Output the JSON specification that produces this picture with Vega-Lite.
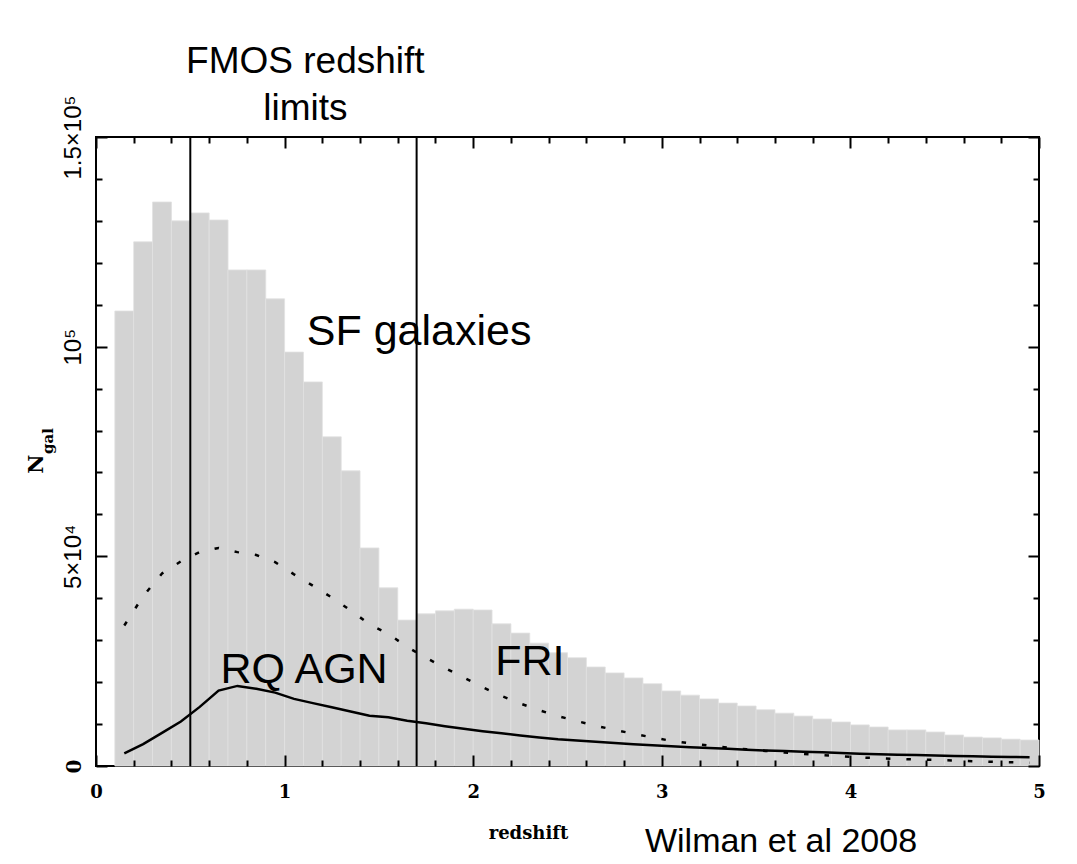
{
  "$schema": "https://vega.github.io/schema/vega-lite/v6.json",
  "width": 943,
  "height": 629,
  "autosize": {"type": "none"},
  "padding": {"left": 96, "top": 137, "right": 38, "bottom": 98},
  "background": "white",
  "config": {
    "view": {"stroke": "black", "strokeWidth": 2},
    "axis": {"domain": false, "grid": false, "tickColor": "#000000", "tickWidth": 2, "labelColor": "black", "titleColor": "black"}
  },
  "datasets": {
    "bins": [
      {"z0": 0.1, "z1": 0.2, "n": 108500},
      {"z0": 0.2, "z1": 0.3, "n": 125000},
      {"z0": 0.3, "z1": 0.4, "n": 134500},
      {"z0": 0.4, "z1": 0.5, "n": 130000},
      {"z0": 0.5, "z1": 0.6, "n": 131900},
      {"z0": 0.6, "z1": 0.7, "n": 130200},
      {"z0": 0.7, "z1": 0.8, "n": 118300},
      {"z0": 0.8, "z1": 0.9, "n": 118300},
      {"z0": 0.9, "z1": 1.0, "n": 111400},
      {"z0": 1.0, "z1": 1.1, "n": 98700},
      {"z0": 1.1, "z1": 1.2, "n": 91600},
      {"z0": 1.2, "z1": 1.3, "n": 78500},
      {"z0": 1.3, "z1": 1.4, "n": 70400},
      {"z0": 1.4, "z1": 1.5, "n": 52000},
      {"z0": 1.5, "z1": 1.6, "n": 42500},
      {"z0": 1.6, "z1": 1.7, "n": 34800},
      {"z0": 1.7, "z1": 1.8, "n": 36300},
      {"z0": 1.8, "z1": 1.9, "n": 37000},
      {"z0": 1.9, "z1": 2.0, "n": 37400},
      {"z0": 2.0, "z1": 2.1, "n": 37200},
      {"z0": 2.1, "z1": 2.2, "n": 33900},
      {"z0": 2.2, "z1": 2.3, "n": 31700},
      {"z0": 2.3, "z1": 2.4, "n": 29300},
      {"z0": 2.4, "z1": 2.5, "n": 27000},
      {"z0": 2.5, "z1": 2.6, "n": 25800},
      {"z0": 2.6, "z1": 2.7, "n": 23600},
      {"z0": 2.7, "z1": 2.8, "n": 22200},
      {"z0": 2.8, "z1": 2.9, "n": 21000},
      {"z0": 2.9, "z1": 3.0, "n": 19600},
      {"z0": 3.0, "z1": 3.1, "n": 17900},
      {"z0": 3.1, "z1": 3.2, "n": 16900},
      {"z0": 3.2, "z1": 3.3, "n": 16000},
      {"z0": 3.3, "z1": 3.4, "n": 15000},
      {"z0": 3.4, "z1": 3.5, "n": 14300},
      {"z0": 3.5, "z1": 3.6, "n": 13400},
      {"z0": 3.6, "z1": 3.7, "n": 12600},
      {"z0": 3.7, "z1": 3.8, "n": 11900},
      {"z0": 3.8, "z1": 3.9, "n": 11200},
      {"z0": 3.9, "z1": 4.0, "n": 10500},
      {"z0": 4.0, "z1": 4.1, "n": 9800},
      {"z0": 4.1, "z1": 4.2, "n": 9300},
      {"z0": 4.2, "z1": 4.3, "n": 8600},
      {"z0": 4.3, "z1": 4.4, "n": 8600},
      {"z0": 4.4, "z1": 4.5, "n": 8100},
      {"z0": 4.5, "z1": 4.6, "n": 7400},
      {"z0": 4.6, "z1": 4.7, "n": 6900},
      {"z0": 4.7, "z1": 4.8, "n": 6700},
      {"z0": 4.8, "z1": 4.9, "n": 6400},
      {"z0": 4.9, "z1": 5.0, "n": 6200}
    ],
    "curves": [
      {"z": 0.15, "agn": 3000, "fri": 33500},
      {"z": 0.25, "agn": 5200, "fri": 40500},
      {"z": 0.35, "agn": 7900, "fri": 45900},
      {"z": 0.45, "agn": 10600, "fri": 48800},
      {"z": 0.55, "agn": 14100, "fri": 51000},
      {"z": 0.65, "agn": 18000, "fri": 52000},
      {"z": 0.75, "agn": 19100, "fri": 51000},
      {"z": 0.85, "agn": 18400, "fri": 50300},
      {"z": 0.95, "agn": 17500, "fri": 48600},
      {"z": 1.05, "agn": 16000, "fri": 45700},
      {"z": 1.15, "agn": 15000, "fri": 43000},
      {"z": 1.25, "agn": 14000, "fri": 40200},
      {"z": 1.35, "agn": 13000, "fri": 37100},
      {"z": 1.45, "agn": 12000, "fri": 33800},
      {"z": 1.55, "agn": 11600, "fri": 31500},
      {"z": 1.65, "agn": 10800, "fri": 28400},
      {"z": 1.75, "agn": 10200, "fri": 25800},
      {"z": 1.85, "agn": 9500, "fri": 23400},
      {"z": 1.95, "agn": 8900, "fri": 21100},
      {"z": 2.05, "agn": 8300, "fri": 18800},
      {"z": 2.15, "agn": 7800, "fri": 16700},
      {"z": 2.25, "agn": 7300, "fri": 14900},
      {"z": 2.35, "agn": 6800, "fri": 13300},
      {"z": 2.45, "agn": 6400, "fri": 11900},
      {"z": 2.55, "agn": 6100, "fri": 10700},
      {"z": 2.65, "agn": 5800, "fri": 9600},
      {"z": 2.75, "agn": 5500, "fri": 8600},
      {"z": 2.85, "agn": 5200, "fri": 7700},
      {"z": 2.95, "agn": 4950, "fri": 6800},
      {"z": 3.05, "agn": 4700, "fri": 6000},
      {"z": 3.15, "agn": 4500, "fri": 5400},
      {"z": 3.25, "agn": 4300, "fri": 4900},
      {"z": 3.35, "agn": 4100, "fri": 4400},
      {"z": 3.45, "agn": 3900, "fri": 4000},
      {"z": 3.55, "agn": 3700, "fri": 3600},
      {"z": 3.65, "agn": 3550, "fri": 3200},
      {"z": 3.75, "agn": 3400, "fri": 2900},
      {"z": 3.85, "agn": 3250, "fri": 2600},
      {"z": 3.95, "agn": 3100, "fri": 2300},
      {"z": 4.05, "agn": 2950, "fri": 2050},
      {"z": 4.15, "agn": 2800, "fri": 1850},
      {"z": 4.25, "agn": 2700, "fri": 1700},
      {"z": 4.35, "agn": 2600, "fri": 1550},
      {"z": 4.45, "agn": 2500, "fri": 1450},
      {"z": 4.55, "agn": 2400, "fri": 1300},
      {"z": 4.65, "agn": 2300, "fri": 1150},
      {"z": 4.75, "agn": 2200, "fri": 1000},
      {"z": 4.85, "agn": 2150, "fri": 900},
      {"z": 4.95, "agn": 2100, "fri": 800}
    ],
    "limits": [{"z": 0.5}, {"z": 1.7}],
    "bigLabels": [
      {"label": "SF galaxies", "z": 1.713, "n": 100400},
      {"label": "RQ AGN", "z": 1.103, "n": 19800},
      {"label": "FRI", "z": 2.3, "n": 21700}
    ],
    "fmos": [
      {"label": "FMOS redshift", "z": 1.11, "n": 165300},
      {"label": "limits", "z": 1.11, "n": 154100}
    ],
    "credit": [{"label": "Wilman et al 2008", "z": 3.632, "n": -20500}],
    "ytitleMain": [{"label": "N", "z": -0.281, "n": 72000}],
    "ytitleSub": [{"label": "gal", "z": -0.228, "n": 77500}]
  },
  "resolve": {"axis": {"x": "independent", "y": "independent"}},
  "layer": [
    {
      "data": {"name": "bins"},
      "mark": {"type": "rect", "color": "#d3d3d3", "stroke": "#e1e1e1", "strokeWidth": 0.8},
      "encoding": {
        "x": {
          "field": "z0", "type": "quantitative",
          "scale": {"domain": [0, 5], "nice": false, "zero": false},
          "axis": {
            "orient": "bottom", "zindex": 1,
            "values": [0, 1, 2, 3, 4, 5],
            "tickSize": -11, "tickColor": "#000000", "format": "d",
            "labelFont": "DejaVu Serif", "labelFontWeight": "bold", "labelFontSize": 18,
            "labelBaseline": "alphabetic", "labelPadding": 42, "labelFlush": false, "labelOverlap": false,
            "title": "redshift", "titleFont": "DejaVu Serif", "titleFontWeight": "bold", "titleFontSize": 18,
            "titleX": 432, "titleY": 72, "titleBaseline": "alphabetic", "titleAlign": "center", "titleAnchor": null
          }
        },
        "x2": {"field": "z1"},
        "y": {
          "field": "n", "type": "quantitative",
          "scale": {"domain": [0, 150000], "nice": false},
          "axis": {
            "orient": "left", "zindex": 1,
            "values": [50000, 100000, 150000],
            "tickSize": -11, "tickColor": "#000000",
            "labelExpr": "datum.value === 50000 ? '5×10⁴' : datum.value === 100000 ? '10⁵' : '1.5×10⁵'",
            "labelAngle": 270, "labelAlign": "center", "labelBaseline": "alphabetic",
            "labelFont": "Liberation Sans", "labelFontSize": 24,
            "labelPadding": 27, "labelFlush": false, "labelOverlap": false,
            "title": null
          }
        }
      }
    },
    {
      "data": {"name": "limits"},
      "mark": {"type": "rule", "color": "black", "strokeWidth": 2},
      "encoding": {
        "x": {
          "field": "z", "type": "quantitative",
          "scale": {"domain": [0, 5], "nice": false, "zero": false},
          "axis": {
            "orient": "bottom", "zindex": 1,
            "values": [0.2, 0.4, 0.6, 0.8, 1.2, 1.4, 1.6, 1.8, 2.2, 2.4, 2.6, 2.8, 3.2, 3.4, 3.6, 3.8, 4.2, 4.4, 4.6, 4.8],
            "tickSize": -6, "tickColor": "#000000", "labels": false, "title": null
          }
        }
      }
    },
    {
      "data": {"name": "curves"},
      "mark": {"type": "line", "color": "black", "strokeWidth": 2.5, "strokeDash": [4.5, 16], "strokeCap": "butt"},
      "encoding": {
        "x": {
          "field": "z", "type": "quantitative",
          "scale": {"domain": [0, 5], "nice": false, "zero": false},
          "axis": {
            "orient": "top", "zindex": 1,
            "values": [0, 1, 2, 3, 4, 5],
            "tickSize": -11, "tickColor": "#000000", "labels": false, "title": null
          }
        },
        "y": {
          "field": "fri", "type": "quantitative",
          "scale": {"domain": [0, 150000], "nice": false},
          "axis": {
            "orient": "left", "zindex": 1,
            "values": [10000, 20000, 30000, 40000, 60000, 70000, 80000, 90000, 110000, 120000, 130000, 140000],
            "tickSize": -6, "tickColor": "#000000", "labels": false, "title": null
          }
        }
      }
    },
    {
      "data": {"name": "curves"},
      "mark": {"type": "line", "color": "black", "strokeWidth": 2.5},
      "encoding": {
        "x": {
          "field": "z", "type": "quantitative",
          "scale": {"domain": [0, 5], "nice": false, "zero": false},
          "axis": {
            "orient": "top", "zindex": 1,
            "values": [0.2, 0.4, 0.6, 0.8, 1.2, 1.4, 1.6, 1.8, 2.2, 2.4, 2.6, 2.8, 3.2, 3.4, 3.6, 3.8, 4.2, 4.4, 4.6, 4.8],
            "tickSize": -6, "tickColor": "#000000", "labels": false, "title": null
          }
        },
        "y": {
          "field": "agn", "type": "quantitative",
          "scale": {"domain": [0, 150000], "nice": false},
          "axis": {
            "orient": "right", "zindex": 1,
            "values": [0, 50000, 100000, 150000],
            "tickSize": -11, "tickColor": "#000000", "labels": false, "title": null
          }
        }
      }
    },
    {
      "data": {"name": "bigLabels"},
      "mark": {"type": "text", "font": "Liberation Sans", "fontSize": 43, "color": "black", "align": "center", "baseline": "alphabetic"},
      "encoding": {
        "x": {"field": "z", "type": "quantitative", "scale": {"domain": [0, 5], "nice": false, "zero": false}, "axis": null},
        "y": {
          "field": "n", "type": "quantitative",
          "scale": {"domain": [0, 150000], "nice": false},
          "axis": {
            "orient": "right", "zindex": 1,
            "values": [10000, 20000, 30000, 40000, 60000, 70000, 80000, 90000, 110000, 120000, 130000, 140000],
            "tickSize": -6, "tickColor": "#000000", "labels": false, "title": null
          }
        },
        "text": {"field": "label"}
      }
    },
    {
      "data": {"name": "fmos"},
      "mark": {"type": "text", "font": "Liberation Sans", "fontSize": 37, "color": "black", "align": "center", "baseline": "alphabetic"},
      "encoding": {
        "x": {"field": "z", "type": "quantitative", "scale": {"domain": [0, 5], "nice": false, "zero": false}, "axis": null},
        "y": {"field": "n", "type": "quantitative", "scale": {"domain": [0, 150000], "nice": false}, "axis": null},
        "text": {"field": "label"}
      }
    },
    {
      "data": {"name": "credit"},
      "mark": {"type": "text", "font": "Liberation Sans", "fontSize": 34, "color": "black", "align": "center", "baseline": "alphabetic"},
      "encoding": {
        "x": {"field": "z", "type": "quantitative", "scale": {"domain": [0, 5], "nice": false, "zero": false}, "axis": null},
        "y": {"field": "n", "type": "quantitative", "scale": {"domain": [0, 150000], "nice": false}, "axis": null},
        "text": {"field": "label"}
      }
    },
    {
      "data": {"name": "ytitleMain"},
      "mark": {"type": "text", "font": "DejaVu Serif", "fontWeight": "bold", "fontSize": 21, "color": "black", "align": "center", "baseline": "alphabetic", "angle": 270},
      "encoding": {
        "x": {"field": "z", "type": "quantitative", "scale": {"domain": [0, 5], "nice": false, "zero": false}, "axis": null},
        "y": {
          "field": "n", "type": "quantitative",
          "scale": {"domain": [0, 150000], "nice": false},
          "axis": {
            "orient": "left", "zindex": 1,
            "values": [0],
            "tickSize": -11, "tickColor": "#000000",
            "labelExpr": "'0'",
            "labelAngle": 270, "labelAlign": "center", "labelBaseline": "alphabetic",
            "labelFont": "DejaVu Serif", "labelFontWeight": "bold", "labelFontSize": 20,
            "labelPadding": 27, "labelFlush": false, "labelOverlap": false,
            "title": null
          }
        },
        "text": {"field": "label"}
      }
    },
    {
      "data": {"name": "ytitleSub"},
      "mark": {"type": "text", "font": "DejaVu Serif", "fontWeight": "bold", "fontSize": 15, "color": "black", "align": "center", "baseline": "alphabetic", "angle": 270},
      "encoding": {
        "x": {"field": "z", "type": "quantitative", "scale": {"domain": [0, 5], "nice": false, "zero": false}, "axis": null},
        "y": {"field": "n", "type": "quantitative", "scale": {"domain": [0, 150000], "nice": false}, "axis": null},
        "text": {"field": "label"}
      }
    }
  ]
}
